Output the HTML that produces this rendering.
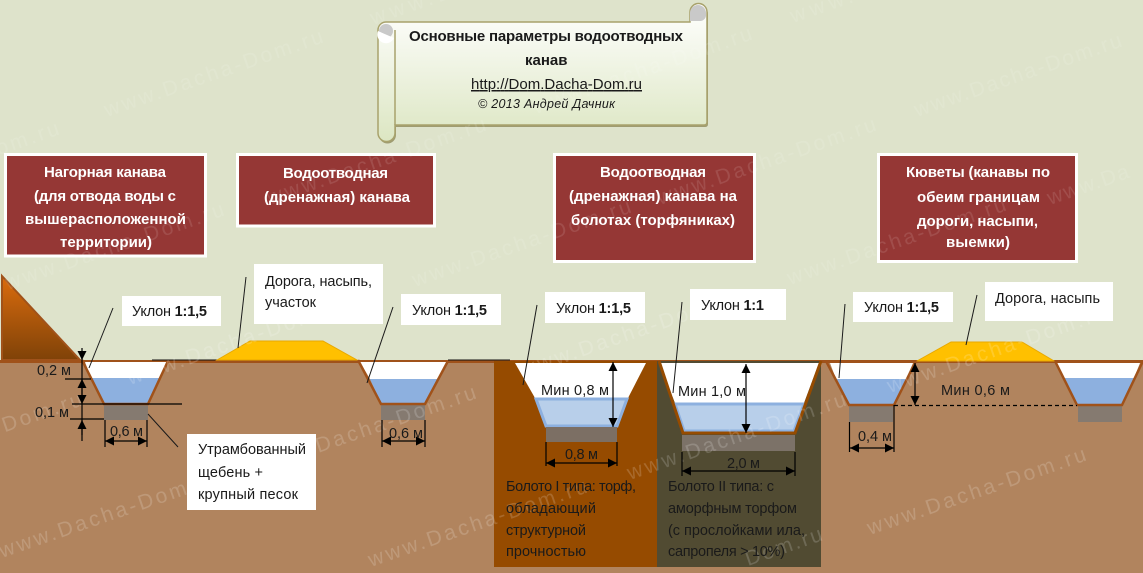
<!DOCTYPE html>
<html><head><meta charset="utf-8"><style>
html,body{margin:0;padding:0;background:#DEE3CB;width:1143px;height:573px;overflow:hidden}
svg{display:block;overflow:hidden}
text{font-family:"Liberation Sans","DejaVu Sans",sans-serif;font-size:14.5px;fill:#1a1a1a}
.h text{font-weight:bold;fill:#fff;font-size:15px}
.w text{font-size:21px;fill:#fff;opacity:.11}
.w2 text{font-size:21px;fill:#fff;opacity:.17}
.c{stroke:#1a1a1a;stroke-width:1;fill:none}
.d{stroke:#000;stroke-width:1.2;fill:none}
.g{fill:#857A70}
.b{stroke:#A0521A;stroke-width:2.5;fill:none}
</style></head><body>
<svg xmlns="http://www.w3.org/2000/svg" width="1143" height="573" viewBox="0 0 1143 573">
<defs>
<linearGradient id="m" x1="0" y1="0" x2="0" y2="1"><stop offset="0" stop-color="#DB6C0E"/><stop offset="1" stop-color="#7F4208"/></linearGradient>
<linearGradient id="s" x1="0" y1="0" x2="0" y2="1"><stop offset="0" stop-color="#fff"/><stop offset="1" stop-color="#DCE6C2"/></linearGradient>
<marker id="a" viewBox="0 0 10 10" refX="10" refY="5" markerWidth="10" markerHeight="9" markerUnits="userSpaceOnUse" orient="auto-start-reverse"><path d="M0 0L10 5L0 10z" fill="#000"/></marker>
</defs>
<rect width="1143" height="573" fill="#DEE3CB"/>
<rect y="361" width="1143" height="212" fill="#B1845E"/>
<rect y="360" width="1143" height="3" fill="#A0521A"/>
<polygon points="2,276 80,360 2,360" fill="url(#m)" stroke="#A0521A" stroke-width="2"/>

<!-- bog blocks -->
<rect x="494" y="361" width="163" height="206" fill="#964B00"/>
<rect x="657" y="361" width="164" height="206" fill="#514B32"/>
<line x1="152" y1="360" x2="217" y2="360" stroke="#111" stroke-width="1"/>
<line x1="448" y1="360" x2="510" y2="360" stroke="#111" stroke-width="1"/>

<!-- roads -->
<polygon points="217,360 250,341 323,341 357,360" fill="#FFC000" stroke="#E8A800"/>
<polygon points="917,361 951,342 1022,342 1054,361" fill="#FFC000" stroke="#E8A800"/>

<!-- ditch 1 -->
<polygon points="85,362 167,362 161,378 91,378" fill="#fff"/>
<polygon points="91,378 161,378 148,404 104,404" fill="#8DB0DF"/>
<rect class="g" x="104" y="405" width="44" height="15"/>
<polyline class="b" points="82,360 104,404 148,404 168,361"/>
<!-- ditch 2 -->
<polygon points="360,362 448,362 437,379 370,379" fill="#fff"/>
<polygon points="370,379 437,379 425,404 381,404" fill="#8DB0DF"/>
<rect class="g" x="381" y="405" width="44" height="15"/>
<polyline class="b" points="358,360 381,404 425,404 448,361"/>
<!-- bog 1 -->
<polygon points="515,363 646,363 628,398 535,398" fill="#fff"/>
<polygon points="536,399 627,399 617,426 546,426" fill="#B8CFEA" stroke="#8DB0DF" stroke-width="3"/>
<rect x="546" y="427" width="71" height="15" fill="#7C6F64"/>
<!-- bog 2 -->
<polygon points="659,363 819,363 804,403 675,403" fill="#fff"/>
<polygon points="675,404 804,404 794,431 684,431" fill="#B8CFEA" stroke="#8DB0DF" stroke-width="3"/>
<polyline points="659,361 683,433 795,433 821,361" fill="none" stroke="#964B00" stroke-width="3"/>
<rect x="682" y="435" width="113" height="16" fill="#7C7268"/>
<!-- ditch 3 -->
<polygon points="830,363 913,363 906,379 836,379" fill="#fff"/>
<polygon points="836,379 906,379 894,405 849,405" fill="#8DB0DF"/>
<rect class="g" x="849" y="405" width="44" height="17"/>
<polyline class="b" points="826,361 849,405 894,405 916,361"/>
<!-- ditch 4 -->
<polygon points="1056,363 1140,363 1134,378 1064,378" fill="#fff"/>
<polygon points="1064,378 1134,378 1122,405 1077,405" fill="#8DB0DF"/>
<rect class="g" x="1078" y="405" width="44" height="17"/>
<polyline class="b" points="1055,361 1077,405 1122,405 1143,361"/>

<!-- scroll shape -->
<path d="M395 125H704Q707 125 707 122V12A8 8 0 0 0 690 12V22H386A8 8 0 0 0 378 30V133A8 8 0 0 0 395 133Z" fill="#8F8A5A" transform="translate(1,2)" opacity=".8"/>
<path d="M395 125H704Q707 125 707 122V12A8 8 0 0 0 690 12V22H386A8 8 0 0 0 378 30V133A8 8 0 0 0 395 133Z" fill="url(#s)" stroke="#A8A26C" stroke-width="1.5"/>
<circle cx="386" cy="31" r="7" fill="#C9C9C9"/><path d="M378 31A8 8 0 0 0 394 38" fill="#fff"/>
<line x1="395" y1="30" x2="395" y2="125" stroke="#A8A26C" stroke-width="1.5"/>
<path d="M690 20V13A8 8 0 0 1 706 13V14A6 6 0 0 1 700 21H690Z" fill="#C9C9C9"/>

<!-- headers -->
<g fill="#953735" stroke="#fff" stroke-width="3">
<rect x="5.500" y="154.500" width="200" height="101.500"/>
<rect x="237.500" y="154.500" width="197" height="71.500"/>
<rect x="554.500" y="154.500" width="200" height="107"/>
<rect x="878.500" y="154.500" width="198" height="107"/>
</g>

<!-- watermarks -->
<g class="w">
<text textLength="85" transform="translate(373,25) rotate(-19)">www.D</text>
<text textLength="85" transform="translate(793,23) rotate(-19)">www.D</text>
<text textLength="230" transform="translate(107,117) rotate(-19)">www.Dacha-Dom.ru</text>
<text textLength="230" transform="translate(-157,209) rotate(-19)">www.Dacha-Dom.ru</text>
<text textLength="230" transform="translate(536,114) rotate(-19)">www.Dacha-Dom.ru</text>
<text textLength="218" transform="translate(917,117) rotate(-19)">www.Dacha-Dom.ru</text>
<text textLength="230" transform="translate(660,205) rotate(-19)">www.Dacha-Dom.ru</text>
<text textLength="230" transform="translate(270,205) rotate(-19)">www.Dacha-Dom.ru</text>
<text textLength="230" transform="translate(8,290) rotate(-19)">www.Dacha-Dom.ru</text>
<text textLength="230" transform="translate(415,287) rotate(-19)">www.Dacha-Dom.ru</text>
<text textLength="230" transform="translate(790,285) rotate(-19)">www.Dacha-Dom.ru</text>
<text textLength="85" transform="translate(1050,205) rotate(-19)">www.Da</text>
</g>
<g class="w2">
<text textLength="230" transform="translate(130,385) rotate(-19)">www.Dacha-Dom.ru</text>
<text textLength="230" transform="translate(523,377) rotate(-19)">www.Dacha-Dom.ru</text>
<text textLength="230" transform="translate(890,393) rotate(-19)">www.Dacha-Dom.ru</text>
<text textLength="230" transform="translate(-134,480) rotate(-19)">www.Dacha-Dom.ru</text>
<text textLength="230" transform="translate(260,473) rotate(-19)">www.Dacha-Dom.ru</text>
<text textLength="230" transform="translate(630,480) rotate(-19)">www.Dacha-Dom.ru</text>
<text textLength="230" transform="translate(2,558) rotate(-19)">www.Dacha-Dom.ru</text>
<text textLength="230" transform="translate(371,567) rotate(-19)">www.Dacha-Dom.ru</text>
<text textLength="230" transform="translate(870,535) rotate(-19)">www.Dacha-Dom.ru</text>
<text textLength="80" transform="translate(748,566) rotate(-19)">Dom.ru</text>
</g>

<!-- scroll text -->
<text x="409" y="41" textLength="274" style="font-weight:bold;font-size:15px">Основные параметры водоотводных</text>
<text x="525" y="65" style="font-weight:bold;font-size:15px">канав</text>
<text x="471" y="89" textLength="171" text-decoration="underline" style="font-size:15px">http://Dom.Dacha-Dom.ru</text>
<text x="478" y="108" textLength="137" style="font-size:12.500px;font-style:italic">© 2013 Андрей Дачник</text>

<g class="h">
<text x="44" y="177" textLength="122">Нагорная канава</text>
<text x="34" y="201" textLength="142">(для отвода воды с</text>
<text x="25" y="224" textLength="161">вышерасположенной</text>
<text x="60" y="247" textLength="92">территории)</text>
<text x="283" y="178" textLength="105">Водоотводная</text>
<text x="264" y="202" textLength="146">(дренажная) канава</text>
<text x="600" y="177" textLength="106">Водоотводная</text>
<text x="569" y="201" textLength="168">(дренажная) канава на</text>
<text x="571" y="225" textLength="164">болотах (торфяниках)</text>
<text x="906" y="177" textLength="144">Кюветы (канавы по</text>
<text x="917" y="202" textLength="123">обеим границам</text>
<text x="917" y="226" textLength="121">дороги, насыпи,</text>
<text x="946" y="247" textLength="64">выемки)</text>
</g>

<!-- white labels -->
<g fill="#fff">
<rect x="122" y="296" width="99" height="30"/>
<rect x="254" y="264" width="129" height="60"/>
<rect x="401" y="294" width="100" height="31"/>
<rect x="545" y="292" width="100" height="31"/>
<rect x="690" y="289" width="96" height="31"/>
<rect x="853" y="292" width="100" height="30"/>
<rect x="985" y="282" width="128" height="39"/>
<rect x="187" y="434" width="129" height="76"/>
</g>
<text x="132" y="316" textLength="75">Уклон <tspan font-weight="bold">1:1,5</tspan></text>
<text x="265" y="286" textLength="107">Дорога, насыпь,</text>
<text x="265" y="307" textLength="51">участок</text>
<text x="412" y="315" textLength="75">Уклон <tspan font-weight="bold">1:1,5</tspan></text>
<text x="556" y="313" textLength="75">Уклон <tspan font-weight="bold">1:1,5</tspan></text>
<text x="701" y="310" textLength="63">Уклон <tspan font-weight="bold">1:1</tspan></text>
<text x="864" y="312" textLength="75">Уклон <tspan font-weight="bold">1:1,5</tspan></text>
<text x="995" y="303" textLength="105">Дорога, насыпь</text>
<text x="198" y="454" textLength="108">Утрамбованный</text>
<text x="198" y="477" textLength="65">щебень +</text>
<text x="198" y="499" textLength="100">крупный песок</text>

<!-- callouts -->
<g class="c">
<line x1="113" y1="308" x2="89" y2="368"/>
<line x1="246" y1="277" x2="238" y2="348"/>
<line x1="393" y1="307" x2="367" y2="383"/>
<line x1="148" y1="414" x2="178" y2="447"/>
<line x1="537" y1="305" x2="523" y2="385"/>
<line x1="682" y1="302" x2="673" y2="393"/>
<line x1="845" y1="304" x2="839" y2="378"/>
<line x1="977" y1="295" x2="966" y2="345"/>
</g>

<!-- dimensions -->
<g class="d">
<line x1="82" y1="352" x2="82" y2="441"/>
<line x1="65" y1="379" x2="91" y2="379"/>
<line x1="72" y1="404" x2="182" y2="404"/>
<line x1="70" y1="419" x2="104" y2="419"/>
<line x1="82" y1="348" x2="82" y2="360" marker-end="url(#a)"/>
<line x1="82" y1="392" x2="82" y2="379" marker-end="url(#a)"/>
<line x1="82" y1="392" x2="82" y2="404" marker-end="url(#a)"/>
<line x1="82" y1="435" x2="82" y2="420" marker-end="url(#a)"/>
<line x1="105" y1="420" x2="105" y2="447"/><line x1="147" y1="420" x2="147" y2="447"/>
<line x1="105" y1="441" x2="147" y2="441" marker-start="url(#a)" marker-end="url(#a)"/>
<line x1="382" y1="420" x2="382" y2="447"/><line x1="425" y1="420" x2="425" y2="447"/>
<line x1="382" y1="441" x2="425" y2="441" marker-start="url(#a)" marker-end="url(#a)"/>
<line x1="613" y1="362" x2="613" y2="427" marker-start="url(#a)" marker-end="url(#a)"/>
<line x1="546" y1="442" x2="546" y2="466"/><line x1="617" y1="442" x2="617" y2="466"/>
<line x1="546" y1="463" x2="617" y2="463" marker-start="url(#a)" marker-end="url(#a)"/>
<line x1="746" y1="364" x2="746" y2="433" marker-start="url(#a)" marker-end="url(#a)"/>
<line x1="682" y1="452" x2="682" y2="476"/><line x1="795" y1="452" x2="795" y2="476"/>
<line x1="682" y1="471" x2="795" y2="471" marker-start="url(#a)" marker-end="url(#a)"/>
<line x1="849.500" y1="422" x2="849.500" y2="452"/><line x1="894" y1="405" x2="894" y2="452"/>
<line x1="850" y1="448" x2="894" y2="448" marker-start="url(#a)" marker-end="url(#a)"/>
<line x1="915" y1="363" x2="915" y2="405" marker-start="url(#a)" marker-end="url(#a)"/>
<line x1="894" y1="405.500" x2="1077" y2="405.500" stroke-dasharray="4 3"/>
</g>
<text x="37" y="375" textLength="34">0,2 м</text>
<text x="35" y="417" textLength="34">0,1 м</text>
<text x="110" y="436" textLength="33">0,6 м</text>
<text x="389" y="438" textLength="34">0,6 м</text>
<text x="541" y="395" textLength="68">Мин 0,8 м</text>
<text x="565" y="459" textLength="33">0,8 м</text>
<text x="678" y="396" textLength="68">Мин 1,0 м</text>
<text x="727" y="468" textLength="33">2,0 м</text>
<text x="858" y="441" textLength="34">0,4 м</text>
<text x="941" y="395" textLength="69">Мин 0,6 м</text>

<g style="fill:#2E2410">
<text x="506" y="491" textLength="130">Болото I типа: торф,</text>
<text x="506" y="513" textLength="90">обладающий</text>
<text x="506" y="535" textLength="80">структурной</text>
<text x="506" y="556" textLength="80">прочностью</text>
<text x="668" y="491" textLength="106">Болото II типа: с</text>
<text x="668" y="513" textLength="129">аморфным торфом</text>
<text x="668" y="535" textLength="137">(с прослойками ила,</text>
<text x="668" y="556" textLength="117">сапропеля &gt; 10%)</text>
</g>
</svg>
</body></html>
